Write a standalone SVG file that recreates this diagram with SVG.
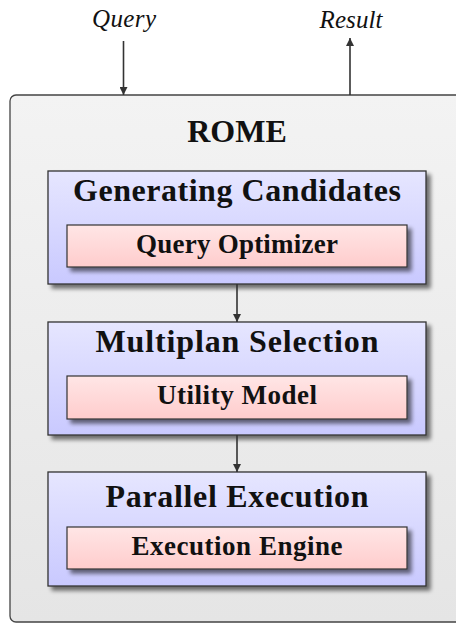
<svg xmlns="http://www.w3.org/2000/svg" width="456" height="625" viewBox="0 0 456 625">
<defs>
<linearGradient id="gOuter" x1="0" y1="0" x2="0" y2="1"><stop offset="0" stop-color="#f3f3f3"/><stop offset="1" stop-color="#e5e5e5"/></linearGradient>
<linearGradient id="gBlue" x1="0" y1="0" x2="0" y2="1"><stop offset="0" stop-color="#e6e6ff"/><stop offset="1" stop-color="#c9c9ff"/></linearGradient>
<linearGradient id="gPink" x1="0" y1="0" x2="0" y2="1"><stop offset="0" stop-color="#ffe6e6"/><stop offset="1" stop-color="#ffcccc"/></linearGradient>
<filter id="shadow" x="-10%" y="-10%" width="125%" height="135%">
<feGaussianBlur in="SourceAlpha" stdDeviation="2"/>
<feOffset dx="4" dy="4" result="b"/>
<feComponentTransfer><feFuncA type="linear" slope="0.55"/></feComponentTransfer>
<feMerge><feMergeNode/><feMergeNode in="SourceGraphic"/></feMerge>
</filter>
<marker id="arr" viewBox="0 0 10 10" refX="10" refY="5" markerWidth="9" markerHeight="8" markerUnits="userSpaceOnUse" orient="auto">
<path d="M0,0 L10,5 L0,10 z" fill="#333"/>
</marker>
</defs>
<style>
.outer{fill:url(#gOuter);stroke:#444;stroke-width:1.3}
.blue{fill:url(#gBlue);stroke:#333;stroke-width:1.3}
.pink{fill:url(#gPink);stroke:#333;stroke-width:1.2}
.title{font-family:"Liberation Serif",serif;font-weight:bold;font-size:32px;fill:#111;text-anchor:middle}
.sub{font-family:"Liberation Serif",serif;font-weight:bold;font-size:27px;fill:#111;text-anchor:middle}
.io{font-family:"Liberation Serif",serif;font-style:italic;font-size:25px;fill:#111;text-anchor:middle}
.conn{stroke:#333;stroke-width:1.6;fill:none;marker-end:url(#arr)}
</style>
<g id="rome">
<rect class="outer" x="10" y="95" width="470" height="527" rx="6"/>
<text class="title" x="237" y="142" font-size="28">ROME</text>
</g>
<g id="query-label"><text class="io" x="124" y="27" textLength="64">Query</text></g>
<g id="result-label"><text class="io" x="351" y="28" textLength="63">Result</text></g>
<g id="generating-candidates">
<rect class="blue" x="48" y="171" width="378" height="113" filter="url(#shadow)"/>
<text class="title" x="237" y="200.5" textLength="328">Generating Candidates</text>
<g id="query-optimizer">
<rect class="pink" x="67" y="225" width="340" height="42" filter="url(#shadow)"/>
<text class="sub" x="237" y="252.5" textLength="202">Query Optimizer</text>
</g>
</g>
<g id="multiplan-selection">
<rect class="blue" x="48" y="322" width="378" height="113" filter="url(#shadow)"/>
<text class="title" x="237" y="351.5" textLength="283">Multiplan Selection</text>
<g id="utility-model">
<rect class="pink" x="67" y="376" width="340" height="43" filter="url(#shadow)"/>
<text class="sub" x="237" y="403.5" textLength="160">Utility Model</text>
</g>
</g>
<g id="parallel-execution">
<rect class="blue" x="48" y="472" width="378" height="114" filter="url(#shadow)"/>
<text class="title" x="237" y="507" textLength="263">Parallel Execution</text>
<g id="execution-engine">
<rect class="pink" x="67" y="527" width="340" height="42" filter="url(#shadow)"/>
<text class="sub" x="237" y="554.5" textLength="211">Execution Engine</text>
</g>
</g>
<g id="connectors">
<line class="conn" x1="123.5" y1="41" x2="123.5" y2="95"/>
<line class="conn" x1="350" y1="95" x2="350" y2="38"/>
<line class="conn" x1="237" y1="284" x2="237" y2="322"/>
<line class="conn" x1="237" y1="435" x2="237" y2="472"/>
</g>
</svg>
